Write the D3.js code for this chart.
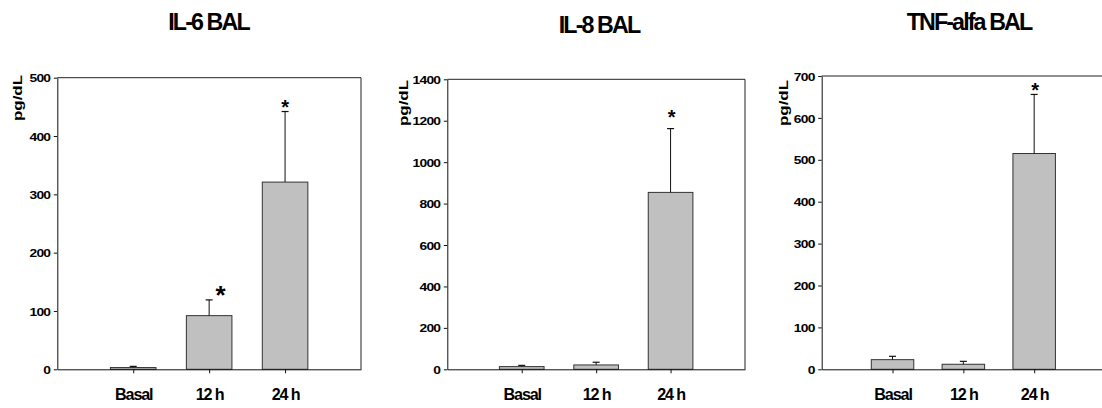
<!DOCTYPE html>
<html>
<head>
<meta charset="utf-8">
<script src="https://cdn.jsdelivr.net/npm/d3@7"></script>
<style>
  html, body { margin: 0; padding: 0; background: #fff; }
  svg { display: block; }
  text { font-family: "Liberation Sans", Arial, sans-serif; font-weight: bold; fill: #000; }
</style>
</head>
<body>
<svg id="chart" width="1102" height="408"></svg>
<script>
// ---- data ----
const categories = ["Basal", "12 h", "24 h"];
const titles = ["IL-6 BAL", "IL-8 BAL", "TNF-alfa BAL"];
const yLabel = "pg/dL";

const il6Means = [3, 92, 321];
const il6Errors = [2, 27, 121];
const il6Stars = [false, true, true];
const il6Ticks = [0, 100, 200, 300, 400, 500];

const il8Means = [13, 21, 854];
const il8Errors = [6, 13, 308];
const il8Stars = [false, false, true];
const il8Ticks = [0, 200, 400, 600, 800, 1000, 1200, 1400];

const tnfMeans = [23, 12, 515];
const tnfErrors = [8, 7, 141];
const tnfStars = [false, false, true];
const tnfTicks = [0, 100, 200, 300, 400, 500, 600, 700];

// ---- layout / style ----
const bottomY = 369.3;
const layouts = [
  { left: 57.3, right: 361, top: 77.7, titleX: 208.5, titleY: 30, ylabX: 22, ylabY: 75,
    starDx: [0, 11.5, 0], starFs: [20, 26, 20], starGap: [9, 10, 9] },
  { left: 447.3, right: 745, top: 79.3, titleX: 599, titleY: 32.5, ylabX: 408, ylabY: 80,
    starDx: [0, 0, 1], starFs: [20, 20, 20], starGap: [9, 9, 16] },
  { left: 821.7, right: 1105, top: 76, titleX: 969, titleY: 29.5, ylabX: 788, ylabY: 80,
    starDx: [0, 0, 1], starFs: [20, 20, 20], starGap: [8, 8, 8] }
];

const panels = [
  { title: titles[0], means: il6Means, errors: il6Errors, stars: il6Stars, ticks: il6Ticks },
  { title: titles[1], means: il8Means, errors: il8Errors, stars: il8Stars, ticks: il8Ticks },
  { title: titles[2], means: tnfMeans, errors: tnfErrors, stars: tnfStars, ticks: tnfTicks }
];

const svg = d3.select("#chart");

panels.forEach((p, pi) => {
  const L = layouts[pi];
  const g = svg.append("g");
  const yMax = p.ticks[p.ticks.length - 1];

  const x = d3.scaleLinear().domain([0, categories.length + 1]).range([L.left, L.right]);
  const y = d3.scaleLinear().domain([0, yMax]).range([bottomY, L.top]);
  const slot = x(1) - x(0);
  const barW = slot * 0.6;

  // frame (top + right)
  g.append("path")
    .attr("d", `M${L.left},${L.top}H${L.right}V${bottomY}`)
    .attr("fill", "none").attr("stroke", "#222").attr("stroke-width", 1);

  // bars
  g.selectAll("rect.bar").data(p.means).enter().append("rect")
    .attr("class", "bar")
    .attr("x", (d, i) => x(i + 1) - barW / 2)
    .attr("width", barW)
    .attr("y", d => y(d))
    .attr("height", d => bottomY - y(d))
    .attr("fill", "#c0c0c0")
    .attr("stroke", "#333").attr("stroke-width", 1);

  // error bars
  const eb = g.selectAll("g.err").data(p.means).enter().append("g").attr("class", "err");
  eb.append("line")
    .attr("x1", (d, i) => x(i + 1)).attr("x2", (d, i) => x(i + 1))
    .attr("y1", d => y(d)).attr("y2", (d, i) => y(d + p.errors[i]))
    .attr("stroke", "#111").attr("stroke-width", 1);
  eb.append("line")
    .attr("x1", (d, i) => x(i + 1) - 3.5).attr("x2", (d, i) => x(i + 1) + 3.5)
    .attr("y1", (d, i) => y(d + p.errors[i])).attr("y2", (d, i) => y(d + p.errors[i]))
    .attr("stroke", "#111").attr("stroke-width", 1.2);

  // asterisks
  p.means.forEach((m, i) => {
    if (!p.stars[i]) return;
    const fs = L.starFs[i];
    const cy = y(m + p.errors[i]) - L.starGap[i];
    g.append("text")
      .attr("x", x(i + 1) + L.starDx[i])
      .attr("y", cy + 0.55 * fs)
      .attr("text-anchor", "middle")
      .style("font-size", fs + "px")
      .text("*");
  });

  // y axis
  const yAxis = g.append("g")
    .attr("transform", `translate(${L.left},0)`)
    .call(d3.axisLeft(y).tickValues(p.ticks).tickSize(3.5).tickSizeOuter(0).tickFormat(d3.format("d")));
  yAxis.select(".domain").attr("stroke", "#111");
  yAxis.selectAll(".tick line").attr("stroke", "#111");
  yAxis.selectAll(".tick text")
    .attr("x", null).attr("dy", null)
    .attr("transform", "translate(-7,4.1) scale(1.2,1)")
    .style("font-size", "11.5px")
    .style("letter-spacing", "-0.6px");

  // x axis
  const xAxis = g.append("g")
    .attr("transform", `translate(0,${bottomY})`)
    .call(d3.axisBottom(x).tickValues(d3.range(1, categories.length + 1)).tickSize(4).tickSizeOuter(0)
      .tickFormat(d => categories[d - 1]));
  xAxis.select(".domain").attr("stroke", "#111");
  xAxis.selectAll(".tick line").attr("stroke", "#111");
  xAxis.selectAll(".tick text")
    .attr("y", null).attr("dy", null)
    .attr("transform", "translate(0,31) scale(0.95,1)")
    .style("font-size", "17px")
    .style("letter-spacing", "-1.2px");

  // y label
  g.append("text")
    .attr("transform", `translate(${L.ylabX},${L.ylabY}) rotate(-90) scale(1.3,1)`)
    .attr("text-anchor", "end")
    .style("font-size", "13px")
    .text(yLabel);

  // title
  g.append("text")
    .attr("transform", `translate(${L.titleX},${L.titleY}) scale(0.95,1)`)
    .attr("text-anchor", "middle")
    .style("font-size", "24.5px")
    .style("letter-spacing", "-2px")
    .text(p.title);
});
</script>
</body>
</html>
